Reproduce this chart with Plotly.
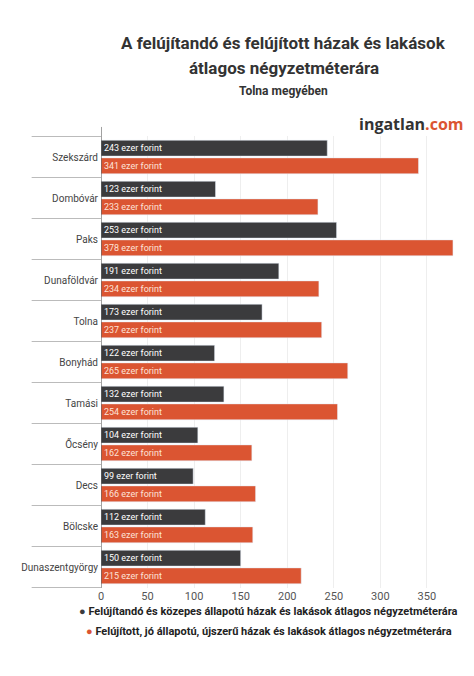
import plotly.graph_objects as go

varosok = ["Szekszárd", "Dombóvár", "Paks", "Dunaföldvár", "Tolna", "Bonyhád",
           "Tamási", "Őcsény", "Decs", "Bölcske", "Dunaszentgyörgy"]
felujitando = [243, 123, 253, 191, 173, 122, 132, 104, 99, 112, 150]
felujitott = [341, 233, 378, 234, 237, 265, 254, 162, 166, 163, 215]

nev_a = "Felújítandó és közepes állapotú házak és lakások átlagos négyzetméterára"
nev_b = "Felújított, jó állapotú, újszerű házak és lakások átlagos négyzetméterára"
sotet = "#3b3b3d"
narancs = "#db5532"

fig = go.Figure()
fig.add_trace(go.Bar(
    y=varosok, x=felujitando, orientation="h", name=nev_a,
    marker_color=sotet,
    text=[f"{v} ezer forint" for v in felujitando],
    textposition="inside", insidetextanchor="start",
    textfont=dict(color="white", size=10)))
fig.add_trace(go.Bar(
    y=varosok, x=felujitott, orientation="h", name=nev_b,
    marker_color=narancs,
    text=[f"{v} ezer forint" for v in felujitott],
    textposition="inside", insidetextanchor="start",
    textfont=dict(color="#fde3d8", size=10)))

# elválasztó vonalak a kategóriák között a tengely bal oldalán
shapes = []
for i in range(len(varosok) + 1):
    shapes.append(dict(type="line", xref="paper", yref="y",
                       x0=-0.19, x1=0, y0=i - 0.5, y1=i - 0.5,
                       line=dict(color="#bbbbbb", width=1)))
shapes.append(dict(type="line", xref="x", yref="paper", x0=0, x1=0, y0=0, y1=1.02,
                   line=dict(color="#444444", width=1)))

ann = [
    dict(text="<b>A felújítandó és felújított házak és lakások</b>", y=1.205, size=17),
    dict(text="<b>átlagos négyzetméterára</b>", y=1.15, size=17),
    dict(text="<b>Tolna megyében</b>", y=1.1, size=12),
]
annotations = [dict(text=a["text"], xref="paper", yref="paper", x=0.5, y=a["y"],
                    xanchor="center", yanchor="middle", showarrow=False,
                    font=dict(size=a["size"], color="#333333"))
               for a in ann]
annotations.append(dict(text="<b>ingatlan</b><b style='color:#db5532'>.com</b>",
                        xref="paper", yref="paper", x=1.0, y=1.055, xanchor="right",
                        showarrow=False, font=dict(size=16, color="#333333",
                                                   family="Open Sans, sans-serif")))
for nev, szin, yy in [(nev_a, sotet, -0.07), (nev_b, narancs, -0.115)]:
    annotations.append(dict(
        text=f"<span style='color:{szin}'>●</span> <b>{nev}</b>",
        xref="paper", yref="paper", x=0.46, y=yy, xanchor="center",
        showarrow=False, font=dict(size=11, color="#222222")))

fig.update_layout(
    width=474, height=676, showlegend=False,
    paper_bgcolor="white", plot_bgcolor="white",
    font=dict(family="Roboto, sans-serif", color="#333333"),
    barmode="group", bargap=0.14, bargroupgap=0.1,
    margin=dict(l=93, r=16, t=128, b=96),
    xaxis=dict(range=[0, 392], tickvals=[0, 50, 100, 150, 200, 250, 300, 350],
               showgrid=True, gridcolor="#eeeeee", zeroline=False,
               tickfont=dict(size=11, color="#555555")),
    yaxis=dict(autorange="reversed", showgrid=False, ticks="",
               tickfont=dict(size=10, color="#444444"), ticklabelstandoff=2),
    shapes=shapes,
    annotations=annotations,
)

fig.write_html("out.html")
